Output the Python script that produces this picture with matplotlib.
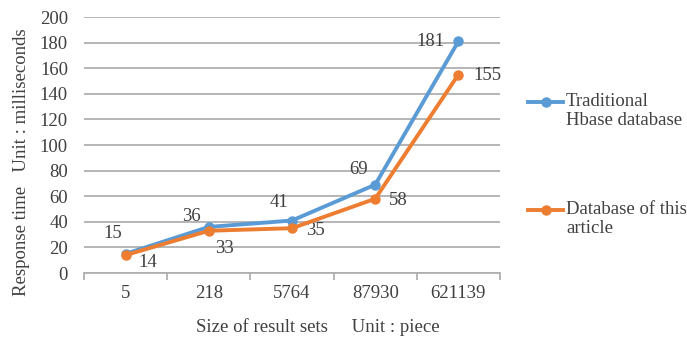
import numpy as np
import matplotlib.pyplot as plt
from matplotlib.lines import Line2D

plt.rcParams['font.family'] = ['Liberation Serif', 'DejaVu Serif']

sizes = ['5', '218', '5764', '87930', '621139']
hbase = [15, 36, 41, 69, 181]
ours = [14, 33, 35, 58, 155]

blue = '#5B9BD5'
orange = '#ED7D31'
txt = '#404040'
fs = 13.5

W, H = 687, 338
fig = plt.figure(figsize=(W / 100, H / 100), dpi=100)
ax = fig.add_axes([84 / W, 1 - 273 / H, 416 / W, 256 / H])

x = np.arange(len(sizes))
ax.plot(x, hbase, color=blue, lw=2.8, marker='o', ms=6.5, zorder=3)
ax.plot(x, ours, color=orange, lw=2.8, marker='o', ms=6.5, zorder=4)

# data labels (pixel offsets)
hb_off = [(-13, 20), (-17, 10), (-13, 18), (-17, 15), (-28, 0)]
or_off = [(22, -7), (16, -18), (23, -2), (23, -2), (29, -1)]
for i, v in enumerate(hbase):
    ax.annotate(str(v), (x[i], v), xytext=hb_off[i], textcoords='offset pixels',
                ha='center', va='center', fontsize=fs, color=txt)
for i, v in enumerate(ours):
    ax.annotate(str(v), (x[i], v), xytext=or_off[i], textcoords='offset pixels',
                ha='center', va='center', fontsize=fs, color=txt)

ax.set_xlim(-0.5, len(sizes) - 0.5)
ax.set_ylim(0, 200)
ax.set_yticks(range(0, 201, 20))
ax.yaxis.grid(True, color='#B0B0B0', lw=1.3)
ax.set_axisbelow(True)

ax.set_xticks(np.arange(-0.5, len(sizes)), [''] * (len(sizes) + 1))
ax.set_xticks(x, sizes, minor=True)
ax.tick_params(axis='x', which='major', length=5, color='#B0B0B0', width=1.3)
ax.tick_params(axis='x', which='minor', length=0, pad=9, labelsize=fs, labelcolor=txt)
ax.tick_params(axis='y', length=0, pad=11.5, labelsize=fs, labelcolor=txt)

for s in ['top', 'right', 'left']:
    ax.spines[s].set_visible(False)
ax.spines['bottom'].set_color('#B0B0B0')
ax.spines['bottom'].set_linewidth(1.3)

ax.set_xlabel('Size of result sets     Unit : piece', fontsize=fs, color=txt)
ax.xaxis.set_label_coords((318 - 84) / 416, (273 - 327) / 256)
ax.xaxis.label.set_va('center')
ax.set_ylabel('Response time   Unit : milliseconds', fontsize=fs, color=txt)
ax.yaxis.set_label_coords((22 - 84) / 416, (273 - 162) / 256)
ax.yaxis.label.set_va('center')

# legend drawn by hand so the key lines up with the first text line
legend = [('Traditional\nHbase database', blue, 102), ('Database of this\narticle', orange, 210)]
for label, col, yp in legend:
    fy = 1 - yp / H
    fig.add_artist(Line2D([528 / W, 563 / W], [fy, fy], color=col, lw=2.8,
                          transform=fig.transFigure))
    fig.add_artist(Line2D([545.5 / W], [fy], color=col, marker='o', ms=6.5,
                          transform=fig.transFigure))
    fig.text(566 / W, fy + 9 / H, label, fontsize=fs, color=txt, ha='left', va='top',
             linespacing=1.15)

fig.savefig('out.png', dpi=100)
